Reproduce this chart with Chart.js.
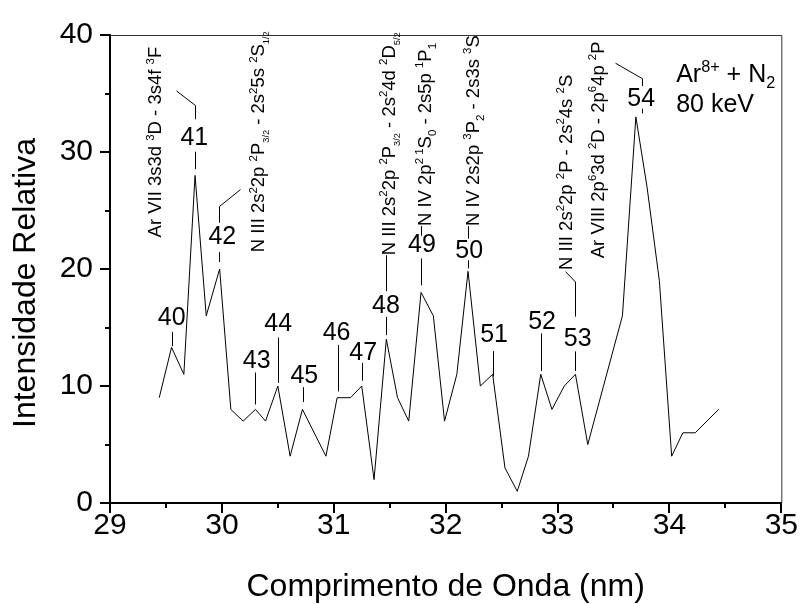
<!DOCTYPE html>
<html><head><meta charset="utf-8">
<script src="https://cdn.jsdelivr.net/npm/chart.js@4"></script>
<style>html,body{margin:0;padding:0;background:#fff}</style>
</head><body>
<canvas id="c" width="803" height="604"></canvas>
<script>
// ---- data ----
const wavelength = [29.44, 29.55, 29.66, 29.76, 29.86, 29.98, 30.08, 30.19, 30.30, 30.39, 30.50, 30.61, 30.72, 30.93, 31.03, 31.15, 31.25, 31.36, 31.47, 31.57, 31.67, 31.78, 31.89, 31.99, 32.10, 32.20, 32.31, 32.42, 32.53, 32.64, 32.74, 32.85, 32.95, 33.06, 33.16, 33.27, 33.58, 33.70, 33.80, 33.91, 34.02, 34.12, 34.23, 34.44];
const intensity  = [9, 13.3, 11, 28, 16, 20, 8, 7, 8, 7, 10, 4, 8, 4, 9, 9, 10, 2, 14, 9, 7, 18, 16, 7, 11, 19.8, 10, 11, 3, 1, 4, 11, 8, 10, 11, 5, 16, 33, 27, 19, 4, 6, 6, 8];
const xTicks = [29, 30, 31, 32, 33, 34, 35];
const yTicks = [0, 10, 20, 30, 40];
const xTitle = "Comprimento de Onda (nm)";
const yTitle = "Intensidade Relativa";

// peak numbers: [text, x, baseline y] in data units
const peakLabels = [
  ["40", 29.552, 15.18], ["41", 29.754, 30.63], ["42", 30.004, 22.15], ["43", 30.311, 11.57],
  ["44", 30.504, 14.71], ["45", 30.737, 10.26], ["46", 31.025, 13.93], ["47", 31.263, 12.26],
  ["48", 31.466, 16.22], ["49", 31.788, 21.44], ["50", 32.21, 20.9], ["51", 32.433, 13.8],
  ["52", 32.862, 14.9], ["53", 33.18, 13.38], ["54", 33.748, 33.92]
];
// leader lines in data units
const leaders = [
  [[29.552,14.63],[29.552,13.4]],
  [[29.757,30.02],[29.757,28.54]], [[29.757,32.8],[29.757,33.97],[29.591,35.22]],
  [[29.978,21.44],[29.978,20.6]], [[29.978,23.95],[29.978,25.34],[30.163,26.79]],
  [[30.296,11.15],[30.296,8.42]],
  [[30.504,14.15],[30.504,10.26]],
  [[30.722,9.9],[30.722,8.64]],
  [[31.034,13.51],[31.034,9.53]],
  [[31.248,11.98],[31.248,10.45]],
  [[31.466,15.91],[31.466,14.35]], [[31.466,18.1],[31.466,21.17]],
  [[31.784,20.9],[31.784,18.6]], [[31.784,22.84],[31.784,23.67]],
  [[32.204,20.75],[32.204,20.05]], [[32.204,22.59],[32.204,23.67]],
  [[32.424,12.98],[32.424,10.81]],
  [[32.85,14.49],[32.85,11.29]],
  [[33.156,12.96],[33.156,11.29]], [[33.156,15.93],[33.156,18.89],[33.067,19.78]],
  [[33.758,33.7],[33.758,33.3]], [[33.758,35.64],[33.758,36.26],[33.513,37.59]]
];
// rotated transition labels: [text, baseline x, start y] (data units)
const transitions = [
  ["Ar VII 3s3d ^{3}D - 3s4f ^{3}F", 29.46, 22.7],
  ["N III 2s^{2}2p ^{2}P_{3/2} - 2s^{2}5s ^{2}S_{1/2}", 30.379, 21.44],
  ["N III 2s^{2}2p ^{2}P_{3/2} - 2s^{2}4d ^{2}D_{5/2}", 31.549, 21.17],
  ["N IV 2p^{2 1}S_{0} - 2s5p ^{1}P_{1}", 31.871, 23.67],
  ["N IV 2s2p ^{3}P_{2} - 2s3s ^{3}S", 32.299, 23.67],
  ["N III 2s^{2}2p ^{2}P - 2s^{2}4s ^{2}S", 33.129, 19.92],
  ["Ar VIII 2p^{6}3d ^{2}D - 2p^{6}4p ^{2}P", 33.415, 20.92]
];
const infoLines = [["Ar^{8+} + N_{2}", 34.06, 35.98], ["80 keV", 34.06, 33.42]];

const FONT = "'Liberation Sans', Arial, Helvetica, sans-serif";

function parseRich(str) {
  const segs = []; const re = /(\^|_)\{([^}]*)\}/g; let last = 0, m;
  while ((m = re.exec(str))) {
    if (m.index > last) segs.push({t: str.slice(last, m.index)});
    segs.push({t: m[2], sup: m[1] === '^', sub: m[1] === '_'});
    last = re.lastIndex;
  }
  if (last < str.length) segs.push({t: str.slice(last)});
  return segs;
}
function drawRich(ctx, str, x, y, size, rotated, supScale, subScale) {
  ctx.save(); ctx.translate(x, y); if (rotated) ctx.rotate(-Math.PI / 2);
  ctx.textAlign = 'left'; ctx.textBaseline = 'alphabetic'; ctx.fillStyle = '#000';
  let cx = 0;
  for (const s of parseRich(str)) {
    let fs = size, dy = 0;
    if (s.sup) { fs = size * supScale; dy = -size * 0.42; }
    if (s.sub) { fs = size * (s.t.length > 1 ? subScale : supScale); dy = size * 0.24; }
    ctx.font = fs + 'px ' + FONT;
    ctx.fillText(s.t, cx, dy);
    cx += ctx.measureText(s.t).width;
  }
  ctx.restore();
}

const decor = {
  id: 'decor',
  afterDraw(chart) {
    const ctx = chart.ctx, xs = chart.scales.x, ys = chart.scales.y, a = chart.chartArea;
    ctx.save();
    // frame top/right
    ctx.strokeStyle = '#333'; ctx.lineWidth = 1;
    ctx.beginPath(); ctx.moveTo(a.left, a.top + 0.5); ctx.lineTo(a.right + 0.5, a.top + 0.5); ctx.lineTo(a.right + 0.5, a.bottom); ctx.stroke();
    // ticks
    ctx.strokeStyle = '#000'; ctx.lineWidth = 2;
    for (let v = 0; v <= 40; v += 5) {
      const p = Math.round(ys.getPixelForValue(v));
      const len = v % 10 === 0 ? 10 : 5;
      ctx.beginPath(); ctx.moveTo(a.left - len, p); ctx.lineTo(a.left, p); ctx.stroke();
    }
    for (let v = 29; v <= 35.001; v += 0.5) {
      const p = Math.round(xs.getPixelForValue(v));
      const len = Math.abs(v - Math.round(v)) < 1e-6 ? 10 : 5;
      ctx.beginPath(); ctx.moveTo(p, a.bottom); ctx.lineTo(p, a.bottom + len); ctx.stroke();
    }
    // leaders
    ctx.strokeStyle = '#000'; ctx.lineWidth = 1;
    for (const poly of leaders) {
      ctx.beginPath();
      poly.forEach((pt, i) => {
        const px = Math.round(xs.getPixelForValue(pt[0])) + 0.5, py = ys.getPixelForValue(pt[1]);
        if (i === 0) ctx.moveTo(px, py); else ctx.lineTo(px, py);
      });
      ctx.stroke();
    }
    // peak numbers
    ctx.fillStyle = '#000'; ctx.font = '25px ' + FONT; ctx.textAlign = 'center'; ctx.textBaseline = 'alphabetic';
    for (const [t, x, y] of peakLabels) ctx.fillText(t, xs.getPixelForValue(x), ys.getPixelForValue(y));
    // transitions
    for (const [t, x, y] of transitions) drawRich(ctx, t, xs.getPixelForValue(x), ys.getPixelForValue(y), 18.5, true, 0.62, 0.5);
    for (const [t, x, y] of infoLines) drawRich(ctx, t, xs.getPixelForValue(x), ys.getPixelForValue(y), 25, false, 0.65, 0.65);
    // axis titles
    ctx.font = '32px ' + FONT; ctx.textAlign = 'center'; ctx.textBaseline = 'alphabetic';
    ctx.fillText(xTitle, (a.left + a.right) / 2, 596);
    ctx.save(); ctx.translate(35, 283); ctx.rotate(-Math.PI / 2); ctx.fillText(yTitle, 0, 0); ctx.restore();
    ctx.restore();
  }
};

new Chart(document.getElementById('c'), {
  type: 'scatter',
  data: { datasets: [{ data: wavelength.map((x, i) => ({x, y: intensity[i]})), showLine: true,
    borderColor: '#000', borderWidth: 1, pointRadius: 0, tension: 0, fill: false }] },
  options: {
    responsive: false, animation: false, devicePixelRatio: 1,
    layout: { padding: { top: 24, right: 21, left: 0, bottom: 0 } },
    plugins: { legend: { display: false }, tooltip: { enabled: false } },
    scales: {
      x: { type: 'linear', min: 29, max: 35,
        afterBuildTicks: s => { s.ticks = xTicks.map(v => ({value: v})); },
        afterFit: s => { s.height = 101; },
        ticks: { color: '#000', padding: 5, font: { family: FONT, size: 30 } },
        grid: { drawOnChartArea: false, drawTicks: false },
        border: { display: true, color: '#000', width: 2 } },
      y: { type: 'linear', min: 0, max: 40,
        afterBuildTicks: s => { s.ticks = yTicks.map(v => ({value: v})); },
        afterFit: s => { s.width = 110; },
        ticks: { color: '#000', padding: 17, font: { family: FONT, size: 30 } },
        grid: { drawOnChartArea: false, drawTicks: false },
        border: { display: true, color: '#000', width: 2 } }
    }
  },
  plugins: [decor]
});
</script>
</body></html>
